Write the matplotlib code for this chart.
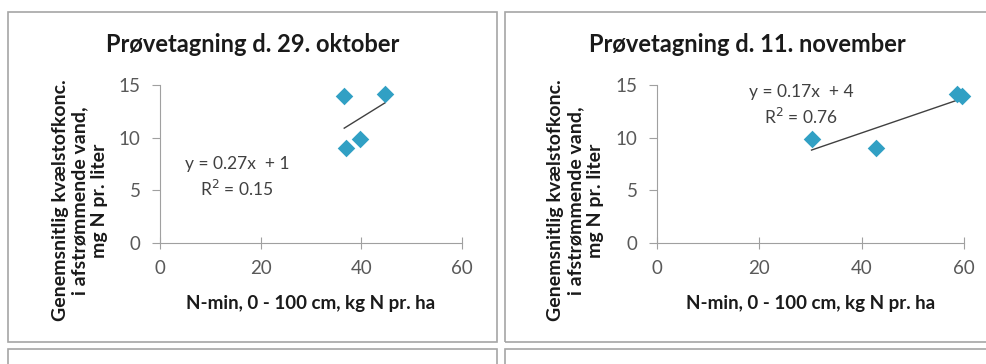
import numpy as np
import matplotlib.pyplot as plt
from matplotlib.patches import Rectangle

plt.rcParams['font.family'] = ['Lato', 'DejaVu Sans']

# data
x_okt = [36.6, 44.7, 36.9, 39.8]
y_okt = [14.0, 14.15, 9.0, 9.9]
x_nov = [30.2, 42.8, 58.6, 59.6]
y_nov = [9.9, 9.0, 14.1, 14.0]

titles = ['Prøvetagning d. 29. oktober', 'Prøvetagning d. 11. november']
eq_texts = ['y = 0.27x  + 1\nR$^2$ = 0.15', 'y = 0.17x  + 4\nR$^2$ = 0.76']
eq_pos = [(0.255, 0.415), (0.47, 0.87)]
xlabel = 'N-min, 0 - 100 cm, kg N pr. ha'
ylabel = 'Genemsnitlig kvælstofkonc.\ni afstrømmende vand,\nmg N pr. liter'

fig = plt.figure(figsize=(9.87, 3.64), dpi=100)

# panel frames
W, H = 987, 364
frames = [(8, 497), (505, 990)]
for x0, x1 in frames:
    fig.patches.append(Rectangle((x0 / W, 1 - 342 / H), (x1 - x0) / W, 330 / H,
                                 transform=fig.transFigure, fill=False,
                                 edgecolor='#a6a6a6', lw=1.2))
    fig.patches.append(Rectangle((x0 / W, -0.1), (x1 - x0) / W, 0.1 + (364 - 349) / H,
                                 transform=fig.transFigure, fill=False,
                                 edgecolor='#a6a6a6', lw=1.2))

axes_left = [160, 657]
axes_width = [302, 307]
panels = [(x_okt, y_okt), (x_nov, y_nov)]

for i, (xs, ys) in enumerate(panels):
    ax = fig.add_axes([axes_left[i] / W, 1 - 243 / H, axes_width[i] / W, 158 / H])
    ax.scatter(xs, ys, marker='D', s=80, color='#31a0c4', zorder=3, linewidths=0,
               clip_on=False)
    k, m = np.polyfit(xs, ys, 1)
    xx = np.array([min(xs), max(xs)])
    ax.plot(xx, k * xx + m, color='#404040', lw=1, zorder=2)
    ax.set_xlim(0, 60)
    ax.set_ylim(0, 15)
    ax.set_xticks([0, 20, 40, 60])
    ax.set_yticks([0, 5, 10, 15])
    for s in ['top', 'right']:
        ax.spines[s].set_visible(False)
    for s in ['left', 'bottom']:
        ax.spines[s].set_color('#a0a0a0')
    ax.tick_params(axis='x', direction='inout', length=9, color='#a0a0a0',
                   labelsize=13.5, labelcolor='#595959', pad=8)
    ax.tick_params(axis='y', direction='out', length=6, color='#a0a0a0',
                   labelsize=13.5, labelcolor='#595959', pad=8)
    # title centred on the panel frame
    fx0, fx1 = frames[i]
    fig.text((fx0 + fx1) / 2 / W, 1 - 45 / H, titles[i], ha='center', va='center',
             fontsize=17, fontweight='bold', color='#1a1a1a')
    ax.set_xlabel(xlabel, fontsize=13.5, fontweight='bold', color='#1a1a1a', labelpad=13)
    ax.set_ylabel(ylabel, fontsize=14, fontweight='bold', color='#1a1a1a',
                  linespacing=1.2, va='center')
    ax.yaxis.set_label_coords(-0.265, 0.27)
    ax.text(eq_pos[i][0], eq_pos[i][1], eq_texts[i], transform=ax.transAxes,
            ha='center', va='center', fontsize=12.5, color='#404040', linespacing=1.45)
    ax.patch.set_alpha(0)

fig.savefig('out.png', dpi=100)
